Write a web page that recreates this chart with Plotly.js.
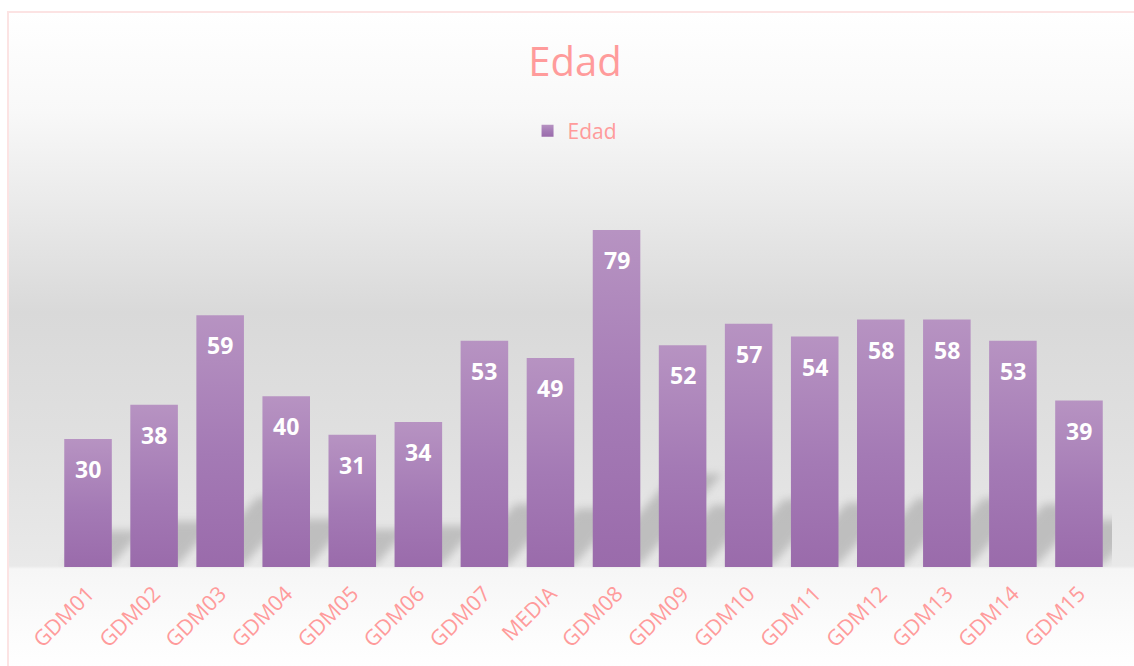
<!DOCTYPE html>
<html>
<head>
<meta charset="utf-8">
<script src="https://cdn.plot.ly/plotly-3.0.1.min.js"></script>
<style>
html,body{margin:0;padding:0;background:#ffffff;width:1134px;height:666px;overflow:hidden;}
#bg{position:absolute;left:7px;top:11px;width:1140px;height:670px;box-sizing:border-box;
border-left:2px solid #FCE3E3;border-top:2px solid #FCE3E3;
background:linear-gradient(to bottom,#FFFFFF 0px,#F8F8F8 100px,#EBEBEB 185px,#D9D9D9 300px,#E0E0E0 430px,#E9E9E9 553px,#F6F6F6 556px,#FCFCFC 620px,#FFFFFF 660px);}
#chart{position:absolute;left:0;top:0;width:1134px;height:666px;}
</style>
</head>
<body>
<div id="bg"></div>
<div id="chart"></div>
<script>
var categories = ["GDM01","GDM02","GDM03","GDM04","GDM05","GDM06","GDM07","MEDIA","GDM08","GDM09","GDM10","GDM11","GDM12","GDM13","GDM14","GDM15"];
var edad = [30,38,59,40,31,34,53,49,79,52,57,54,58,58,53,39];
var seriesName = "Edad";
var chartTitle = "Edad";

var pink = "#FF9B9B";
var trace = {
  type: "bar",
  x: categories,
  y: edad,
  name: seriesName,
  marker: {color: "#A97CB8", line: {width: 0}},
  hoverinfo: "x+y",
  showlegend: true
};

var annotations = categories.map(function(c, i){
  return {
    x: c, y: edad[i], xref: "x", yref: "y",
    text: "<b>" + edad[i] + "</b>",
    showarrow: false, yanchor: "middle", yshift: -30,
    font: {family: "Open Sans", size: 23, color: "#FFFFFF"}
  };
});

var layout = {
  width: 1134, height: 666,
  paper_bgcolor: "rgba(0,0,0,0)",
  plot_bgcolor: "rgba(0,0,0,0)",
  margin: {l: 55, r: 22, t: 183, b: 99, pad: 0},
  bargap: 0.28,
  title: {
    text: chartTitle,
    font: {family: "Open Sans", size: 40, color: pink},
    x: 0.492, xref: "paper", xanchor: "center",
    y: 1 - 62/666, yref: "container", yanchor: "middle"
  },
  showlegend: true,
  legend: {
    orientation: "h",
    x: 0.492, xanchor: "center", xref: "paper",
    y: 1 - 131/666, yref: "container", yanchor: "middle",
    font: {family: "Open Sans", size: 21, color: pink},
    bgcolor: "rgba(0,0,0,0)"
  },
  xaxis: {
    type: "category",
    tickangle: -45,
    tickfont: {family: "Open Sans", size: 21.5, color: pink},
    showgrid: false, zeroline: false, showline: false,
    ticks: "", ticklabelstandoff: 9
  },
  yaxis: {
    range: [0, 90],
    visible: false,
    showgrid: false, zeroline: false
  },
  annotations: annotations
};

Plotly.newPlot("chart", [trace], layout, {displayModeBar: false, staticPlot: true}).then(function(gd){
  var svg = gd.querySelector(".main-svg");
  var ns = "http://www.w3.org/2000/svg";
  var defs = document.createElementNS(ns, "defs");
  var grad = document.createElementNS(ns, "linearGradient");
  grad.setAttribute("id", "barGrad");
  grad.setAttribute("x1", "0"); grad.setAttribute("y1", "0");
  grad.setAttribute("x2", "0"); grad.setAttribute("y2", "1");
  [["0", "#B793C2"], ["0.55", "#A47AB5"], ["1", "#9A6BAB"]].forEach(function(s){
    var st = document.createElementNS(ns, "stop");
    st.setAttribute("offset", s[0]);
    st.setAttribute("stop-color", s[1]);
    grad.appendChild(st);
  });
  defs.appendChild(grad);
  var filt = document.createElementNS(ns, "filter");
  filt.setAttribute("id", "shBlur");
  filt.setAttribute("x", "-50%"); filt.setAttribute("y", "-50%");
  filt.setAttribute("width", "200%"); filt.setAttribute("height", "200%");
  var blur = document.createElementNS(ns, "feGaussianBlur");
  blur.setAttribute("stdDeviation", "4");
  filt.appendChild(blur);
  defs.appendChild(filt);
  svg.insertBefore(defs, svg.firstChild);

  // soft perspective shadow behind each bar, derived from the drawn bar paths
  var ybottom = gd._fullLayout.yaxis.l2p(0);
  gd.querySelectorAll(".trace.bars").forEach(function(tr){
    var pts = tr.querySelector(".points");
    var shg = document.createElementNS(ns, "g");
    shg.setAttribute("filter", "url(#shBlur)");
    shg.setAttribute("opacity", "0.38");
    pts.querySelectorAll(".point path").forEach(function(p){
      var c = p.cloneNode(true);
      c.style.fill = "#7E7E7E";
      c.style.opacity = "1";
      c.setAttribute("transform",
        "translate(0," + (ybottom - 2) + ") skewX(-42) scale(1,0.27) translate(0," + (-ybottom) + ")");
      shg.appendChild(c);
    });
    pts.parentNode.insertBefore(shg, pts);
  });

  gd.querySelectorAll(".bars .point path, .legendpoints path").forEach(function(p){
    if (p.parentNode.parentNode.getAttribute("filter")) return;
    p.style.fill = "url(#barGrad)";
  });
});
</script>
</body>
</html>
